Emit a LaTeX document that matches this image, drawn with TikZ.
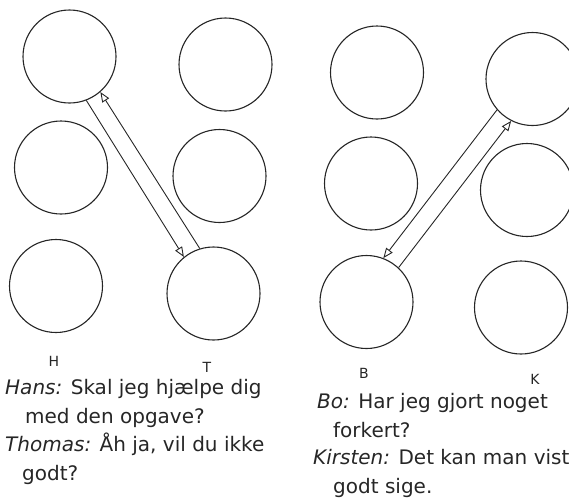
\documentclass[tikz,border=0pt]{standalone}
\usepackage{fontspec}
\setmainfont{DejaVu Sans}
\usetikzlibrary{arrows.meta}

\begin{document}
\begin{tikzpicture}[x=1pt, y=-1pt,
  person/.style={circle, draw=black!85, line width=1.1pt, minimum size=93pt, inner sep=0pt},
  talk/.style={draw=black!85, line width=0.9pt, -{Triangle[open, length=10pt, width=8pt, line width=0.9pt]}},
  initial/.style={font=\fontsize{14}{16}\selectfont, text=black!85, inner sep=0pt},
  speech/.style={font=\fontsize{20}{24}\selectfont, text=black!85, anchor=base west, inner sep=0pt}
]
\useasboundingbox (0,0) rectangle (569,499);
\clip (0,0) rectangle (569,499);

% left group: H column and T column
\node[person] (H1) at (69.5,56.5) {};
\node[person] (H2) at (61,167.5) {};
\node[person] (H3) at (56,286) {};
\node[person] (T1) at (225.5,64.5) {};
\node[person] (T2) at (219.5,176) {};
\node[person] (T3) at (213.5,293.5) {};

% right group: B column and K column
\node[person] (B1) at (377,72.5) {};
\node[person] (B2) at (371,183.5) {};
\node[person] (B3) at (366.5,302) {};
\node[person] (K1) at (532.5,79) {};
\node[person] (K2) at (527,190) {};
\node[person] (K3) at (521,307.5) {};

% exchanges
\draw[talk] (H1.-69) -- (T3.129);
\draw[talk] (T3.107.7) -- (H1.-49.2);
\draw[talk] (K1.-139.4) -- (B3.69.9);
\draw[talk] (B3.47.1) -- (K1.-117.6);

% column initials
\node[initial] (lH) at (54,361) {H};
\node[initial] (lT) at (207,367) {T};
\node[initial] (lB) at (364,373) {B};
\node[initial] (lK) at (535,379) {K};

% dialogue, left
\node[speech] (s1) at (5,394) {\textit{Hans:} Skal jeg hjælpe dig};
\node[speech] (s2) at (25,423) {med den opgave?};
\node[speech] (s3) at (5,451) {\textit{Thomas:} Åh ja, vil du ikke};
\node[speech] (s4) at (22,480) {godt?};

% dialogue, right
\node[speech] (r1) at (317,408) {\textit{Bo:} Har jeg gjort noget};
\node[speech] (r2) at (333,437) {forkert?};
\node[speech] (r3) at (313,464) {\textit{Kirsten:} Det kan man vist};
\node[speech] (r4) at (333,493) {godt sige.};
\end{tikzpicture}
\end{document}
